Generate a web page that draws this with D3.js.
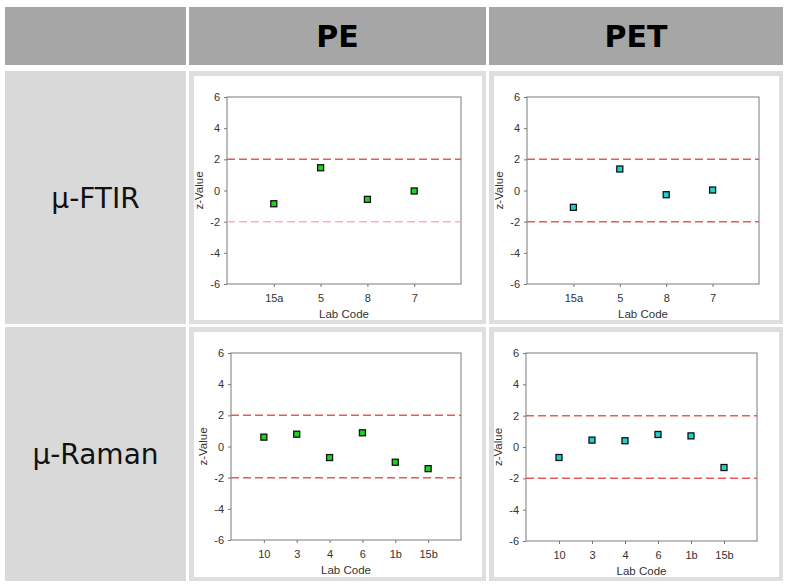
<!DOCTYPE html>
<html>
<head>
<meta charset="utf-8">
<script src="https://cdn.jsdelivr.net/npm/d3@7"></script>
<style>
  body { margin: 0; background: #fff; }
  svg { display: block; }
</style>
</head>
<body>
<div id="chart"></div>
<script>
// categories and values
const polymers = ["PE", "PET"];
const methods = ["µ-FTIR", "µ-Raman"];
const ftirLabs = ["15a", "5", "8", "7"];
const ramanLabs = ["10", "3", "4", "6", "1b", "15b"];
const peFtir = [-0.85, 1.46, -0.57, -0.03];
const petFtir = [-1.08, 1.38, -0.27, 0.03];
const peRaman = [0.60, 0.79, -0.71, 0.88, -1.01, -1.42];
const petRaman = [-0.67, 0.44, 0.40, 0.80, 0.71, -1.31];
const yTicks = [-6, -4, -2, 0, 2, 4, 6];
const limits = [2, -2];

const width = 788, height = 586;

const svg = d3.select("#chart").append("svg")
    .attr("width", width)
    .attr("height", height)

svg.append("rect").attr("width", width).attr("height", height).attr("fill", "#fff")

// table grid
const cols = [[5, 186], [189, 486], [489, 783]]
const rows = [[7, 65], [71, 324], [327, 581]]

// header row
cols.forEach((c, i) => {
    svg.append("rect")
        .attr("x", c[0]).attr("y", rows[0][0])
        .attr("width", c[1] - c[0]).attr("height", rows[0][1] - rows[0][0])
        .attr("fill", "#a6a6a6")
    if (i > 0) {
        svg.append("text")
            .attr("x", (c[0] + c[1]) / 2)
            .attr("y", (rows[0][0] + rows[0][1]) / 2)
            .attr("dy", "0.36em")
            .attr("text-anchor", "middle")
            .attr("font-family", "DejaVu Sans")
            .attr("font-weight", "bold")
            .attr("font-size", 30)
            .attr("fill", "#000")
            .text(polymers[i - 1])
    }
})

// body rows
methods.forEach((m, j) => {
    const r = rows[j + 1]
    svg.append("rect")
        .attr("x", cols[0][0]).attr("y", r[0])
        .attr("width", cols[0][1] - cols[0][0]).attr("height", r[1] - r[0])
        .attr("fill", "#d9d9d9")
    svg.append("text")
        .attr("x", (cols[0][0] + cols[0][1]) / 2)
        .attr("y", (r[0] + r[1]) / 2)
        .attr("dy", "0.36em")
        .attr("text-anchor", "middle")
        .attr("font-family", "DejaVu Sans")
        .attr("font-size", 28)
        .attr("fill", "#111")
        .text(m)
    for (let i = 1; i < 3; i++) {
        svg.append("rect")
            .attr("x", cols[i][0]).attr("y", r[0])
            .attr("width", cols[i][1] - cols[i][0]).attr("height", r[1] - r[0])
            .attr("fill", "#dedede")
        svg.append("rect")
            .attr("x", cols[i][0] + 5).attr("y", r[0] + 5)
            .attr("width", cols[i][1] - cols[i][0] - 9).attr("height", r[1] - r[0] - 9)
            .attr("fill", "#fff")
    }
})

// the four charts
const panels = [
    {labs: ftirLabs, values: peFtir, color: "#1fd21f", box: [227, 461, 97, 284], lowLine: "#f5b3b3"},
    {labs: ftirLabs, values: petFtir, color: "#22d0d0", box: [527, 759, 97, 284], lowLine: "#e85a5a"},
    {labs: ramanLabs, values: peRaman, color: "#1fd21f", box: [231, 461, 353, 540], lowLine: "#e85a5a"},
    {labs: ramanLabs, values: petRaman, color: "#22d0d0", box: [526, 757, 353, 541], lowLine: "#e85a5a"}
]

panels.forEach(p => {
    const [x0, x1, y0, y1] = p.box
    const x = d3.scalePoint().domain(p.labs).range([x0, x1]).padding(1)
    const y = d3.scaleLinear().domain([-6, 6]).range([y1, y0])
    const g = svg.append("g")

    const yAxis = g.append("g")
        .attr("transform", `translate(${x0},0)`)
        .call(d3.axisLeft(y).tickValues(yTicks).tickFormat(d => String(d))
            .tickSize(3).tickPadding(4).tickSizeOuter(0))
    const xAxis = g.append("g")
        .attr("transform", `translate(0,${y1})`)
        .call(d3.axisBottom(x).tickSize(3).tickPadding(7).tickSizeOuter(0))
    ;[yAxis, xAxis].forEach(a => {
        a.select(".domain").remove()
        a.selectAll("line").attr("stroke", "#777")
        a.selectAll("text")
            .attr("font-family", "Liberation Sans, Arial")
            .attr("font-size", 11)
            .attr("fill", "#333")
    })

    // frame
    g.append("rect")
        .attr("x", x0).attr("y", y0)
        .attr("width", x1 - x0).attr("height", y1 - y0)
        .attr("fill", "none")
        .attr("stroke", "#7a7a7a")
        .attr("stroke-width", 1)

    // limit lines
    g.selectAll(".limit")
        .data(limits)
        .join("line")
            .attr("x1", x0).attr("x2", x1)
            .attr("y1", d => y(d)).attr("y2", d => y(d))
            .attr("stroke", d => d < 0 ? p.lowLine : "#e85a5a")
            .attr("stroke-width", 1.5)
            .attr("stroke-dasharray", "8,4")

    // points
    g.selectAll(".pt")
        .data(p.labs.map((l, i) => ({lab: l, v: p.values[i]})))
        .join("rect")
            .attr("x", d => x(d.lab) - 3)
            .attr("y", d => y(d.v) - 3)
            .attr("width", 6).attr("height", 6)
            .attr("fill", p.color)
            .attr("stroke", "#111")
            .attr("stroke-width", 1.3)

    g.append("text")
        .attr("x", (x0 + x1) / 2)
        .attr("y", y1 + 34)
        .attr("text-anchor", "middle")
        .attr("font-family", "Liberation Sans, Arial")
        .attr("font-size", 11.5)
        .attr("fill", "#333")
        .text("Lab Code")

    g.append("text")
        .attr("transform", `translate(${x0 - 24},${(y0 + y1) / 2}) rotate(-90)`)
        .attr("text-anchor", "middle")
        .attr("font-family", "Liberation Sans, Arial")
        .attr("font-size", 11.5)
        .attr("fill", "#333")
        .text("z-Value")
})
</script>
</body>
</html>
